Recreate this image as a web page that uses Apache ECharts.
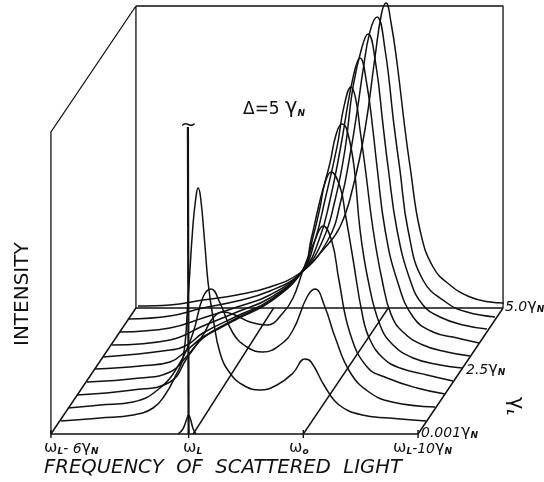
<!DOCTYPE html>
<html><head><meta charset="utf-8">
<style>html,body{margin:0;padding:0;background:#fff}#c{width:544px;height:482px}</style>
<script src="https://cdn.jsdelivr.net/npm/echarts@6/dist/echarts.min.js"></script>
</head><body><div id="c"></div>
<script>
// Each curve: [frequency offset from omega_L in gamma_N, intensity (arb. units)]
const curve1=[[-5.93,0.4],[-4.23,3.4],[-2.79,6.4],[-1.92,13.4],[-1.40,26.4],[-0.95,45],[-0.61,64],[-0.40,121.4],[-0.18,196.4],[-0.05,224.4],[0.04,233.4],[0.15,224.4],[0.34,176.4],[0.48,138.4],[0.69,104.4],[1.00,68.4],[1.43,48.4],[2.00,36.4],[2.74,31.4],[3.48,36.4],[4.18,48.4],[4.70,62.4],[4.97,59.4],[5.58,34.4],[6.19,16.4],[7.19,6.4],[8.37,3.4],[9.98,0.4]];
const curve2=[[-6.00,0.8],[-4.60,3.8],[-3.16,6.8],[-1.99,20.8],[-1.12,45.8],[-0.55,75.8],[-0.11,111.8],[0.24,119.8],[0.63,105.8],[1.19,75.8],[1.80,61.8],[2.50,56.8],[3.24,63.8],[3.81,78.8],[4.42,111.8],[4.77,119.8],[5.20,101.8],[5.64,71.8],[6.29,36.8],[7.12,16.8],[8.13,6.8],[10.0,1.8]];
const curve3=[[-5.98,1.2],[-3.54,6.2],[-1.92,14.2],[-1.18,38.2],[-0.48,61.2],[-0.05,78.2],[0.39,84.2],[0.91,81.2],[1.56,74.2],[2.31,71.2],[3.00,83.2],[3.44,98.2],[3.88,126.2],[4.40,156.2],[4.75,170.2],[5.14,154.2],[5.44,116.2],[5.92,63.2],[6.67,29.2],[7.54,18.2],[8.84,8.2],[10.07,2.2]];
const curve4=[[-5.91,1.6],[-3.60,5.6],[-2.29,11.6],[-1.55,27.6],[-0.85,45.6],[-0.11,55.6],[0.63,64.6],[2.07,81.6],[3.50,113.6],[3.94,146.6],[4.25,176.6],[4.46,200.6],[4.73,211.6],[5.12,196.6],[5.34,170.6],[5.64,130.6],[6.12,65.6],[6.43,43.6],[6.99,25.6],[7.73,15.6],[8.91,8.6],[10.04,2.6]];
const curve5=[[-5.93,2],[-3.97,5],[-2.66,9],[-1.92,21],[-1.22,34],[0.26,53],[1.70,70],[3.13,101],[3.48,131],[3.88,171],[4.31,208],[4.57,236],[4.83,247],[5.05,241],[5.36,204],[5.62,141],[5.97,91],[6.49,46],[7.06,26],[7.93,13],[9.11,6],[10.07,3]];
const curve6=[[-5.95,1.4],[-3.03,8.4],[-2.29,13.4],[-1.60,25.4],[-0.11,42.4],[1.33,58.4],[2.76,88.4],[3.29,118.4],[3.72,158.4],[4.25,212],[4.55,252],[4.86,271.4],[5.07,258.4],[5.25,228.4],[5.47,191.4],[5.82,128.4],[6.21,78.4],[6.60,44],[7.12,26.4],[7.99,13.4],[9.04,6.4],[10.04,2.4]];
const curve7=[[-5.93,0.8],[-3.40,5.8],[-1.97,19.8],[-0.48,33.8],[0.95,47.8],[2.39,74.8],[3.09,105.8],[3.57,145.8],[4.01,195.8],[4.57,268],[4.88,287.8],[5.18,260.8],[5.44,215.8],[5.62,178.8],[5.97,115.8],[6.49,65.8],[7.19,28.8],[8.06,13.8],[9.11,7.8],[10.07,2.8]];
const curve8=[[-5.95,1.2],[-3.78,5.2],[-2.34,15.2],[-0.85,26.2],[0.58,38.2],[2.02,62.2],[2.89,93.2],[3.42,133.2],[3.85,183.2],[4.20,246.2],[4.59,286],[4.86,299.2],[5.20,268.2],[5.51,208],[5.73,166.2],[6.12,103.2],[6.69,53.2],[7.25,28.2],[7.99,16.2],[9.00,8.2],[10.04,4.2]];
const curve9=[[-5.98,1.6],[-4.15,4.6],[-2.71,12.6],[-1.22,19.6],[0.21,29.6],[1.52,46.6],[2.74,80.6],[3.31,120.6],[3.74,170.6],[4.05,215.6],[4.27,250.6],[4.57,289],[4.88,303.6],[5.23,270.6],[5.62,195],[5.88,150],[6.23,90.6],[6.88,40.6],[7.93,17.6],[8.80,8.6],[10.02,3.6]];
const curve10=[[-5.91,2],[-4.52,3],[-3.08,8],[-1.60,13],[-0.16,21],[1.15,35],[2.15,58],[2.89,81],[3.46,121],[3.98,178],[4.42,251],[4.70,294],[4.90,305],[5.12,285],[5.38,245],[5.73,178],[5.95,141],[6.38,78],[6.95,41],[7.69,23],[8.56,11],[9.43,6],[10.04,5]];
const bump0=[[-0.46,0],[-0.25,5],[-0.08,15],[0,19],[0.08,15],[0.2,5],[0.32,0]];
const spike0=[[0,0],[-0.03,307]];
const gammaValues=[0.5,1.0,1.5,2.0,2.5,3.0,3.5,4.0,4.5,5.0];
const curves=[curve1,curve2,curve3,curve4,curve5,curve6,curve7,curve8,curve9,curve10];
const freqTicks=[-6,0,5,10];
const wallTop=302, depthMax=5, fMin=-6, fMax=10;
const shearX=0.741, shearY=25.2; // oblique projection of the gamma_L depth axis

const P=(f,i,d)=>[f+d*shearX,i+d*shearY];
const ink='#111';
const line=(pts,w)=>({type:'line',data:pts,showSymbol:false,silent:true,animation:false,
  lineStyle:{color:ink,width:w||1.3},clip:false});
const smoothLine=(pts,w)=>Object.assign(line(pts,w),{smooth:0.45});

const series=[];
curves.forEach((c,k)=>series.push(smoothLine(c.map(p=>P(p[0],p[1],gammaValues[k])),1.5)));
series.push(smoothLine(bump0.map(p=>P(p[0],p[1],0)),1.5));
series.push(line(spike0.map(p=>P(p[0],p[1],0)),2.2));
// frame
series.push(line([P(fMin,0,0),P(fMax,0,0)],1.5));
series.push(line([P(fMin,0,depthMax),P(fMax,0,depthMax)],1.5));
series.push(line([P(fMin,0,0),P(fMin,0,depthMax)],1.5));
series.push(line([P(fMax,0,0),P(fMax,0,depthMax)],1.5));
series.push(line([P(fMin,0,0),P(fMin,wallTop,0),P(fMin,wallTop,depthMax),P(fMin,0,depthMax)],1.3));
series.push(line([P(fMin,wallTop,depthMax),P(fMax,wallTop,depthMax),P(fMax,0,depthMax)],1.3));
// guide lines on the floor at omega_L and omega_0
series.push(line([P(0.2,0,0),P(0,0,depthMax)],1.4));
series.push(line([P(5,0,0),P(5,0,depthMax)],1.4));
freqTicks.forEach(f=>series.push(line([[f,-4],[f,4]],1.4)));

const F='"DejaVu Sans",sans-serif';
const R={a:{fontSize:16,fontFamily:F,fill:ink,verticalAlign:'bottom'},
 s:{fontSize:9,fontFamily:F,fontStyle:'italic',fontWeight:'bold',fill:ink,verticalAlign:'bottom'},
 n:{fontSize:14,fontFamily:F,fontStyle:'italic',fill:ink,verticalAlign:'bottom'},
 b:{fontSize:17,fontFamily:F,fill:ink,verticalAlign:'bottom'},
 g:{fontSize:21,fontFamily:F,fill:ink,verticalAlign:'bottom'}};
const T=(x,y,text,extra)=>({type:'text',left:x,top:y,silent:true,style:Object.assign({fill:ink,fontFamily:F,text,rich:R},extra||{})});

const chart=echarts.init(document.getElementById('c'),null,{renderer:'canvas'});
chart.setOption({
 animation:false,backgroundColor:'#fff',
 grid:{left:0,top:0,width:544,height:482},
 xAxis:{type:'value',min:-8.22,max:15.49,show:false},
 yAxis:{type:'value',min:-48,max:434,show:false},
 series,
 graphic:[
  T(243,97,'{b|Δ=5 }{g|γ}{s|N}'),
  T(180,116,'~',{fontSize:20}),
  T(44,440,'{a|ω}{s|L}{n|- 6}{a|γ}{s|N}'),
  T(183,440,'{a|ω}{s|L}'),
  T(289,440,'{a|ω}{s|o}'),
  T(393,440,'{a|ω}{s|L}{n|-10}{a|γ}{s|N}'),
  T(421,424,'{n|0.001}{a|γ}{s|N}'),
  T(466,361,'{n|2.5}{a|γ}{s|N}'),
  T(505,298,'{n|5.0}{a|γ}{s|N}'),
  T(44,458,'FREQUENCY  OF  SCATTERED  LIGHT',{fontSize:19.6,fontStyle:'italic',fontFamily:F}),
  {type:'text',x:13,y:346,rotation:Math.PI/2,silent:true,style:{fill:ink,text:'INTENSITY',fontSize:20,fontFamily:F}},
  {type:'text',x:526,y:397,rotation:-Math.PI/2,silent:true,style:{text:'{g|γ}{s|L}',rich:R}}
 ]
});
</script></body></html>
